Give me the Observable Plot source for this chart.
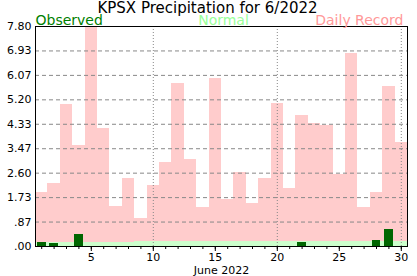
<!DOCTYPE html>
<html>
<head>
<meta charset="utf-8">
<script src="https://cdn.jsdelivr.net/npm/d3@7"></script>
<script src="https://cdn.jsdelivr.net/npm/@observablehq/plot@0.6"></script>
<style>
  html, body { margin: 0; padding: 0; background: #fff; }
</style>
</head>
<body>
<div id="chart"></div>
<script>
const title = "KPSX Precipitation for 6/2022";
const xLabel = "June 2022";
const legendLabels = ["Observed", "Normal", "Daily Record"];
const days = [1,2,3,4,5,6,7,8,9,10,11,12,13,14,15,16,17,18,19,20,21,22,23,24,25,26,27,28,29,30];
const record = [1.93,2.25,5.04,3.58,7.80,4.20,1.43,2.41,0.99,2.17,2.98,5.79,3.10,1.38,5.97,1.67,2.62,1.54,2.41,5.07,2.07,4.65,4.37,4.29,2.56,6.86,1.38,1.91,5.67,3.69];
const normal = [0.14,0.14,0.14,0.14,0.14,0.14,0.14,0.14,0.18,0.18,0.18,0.18,0.18,0.18,0.18,0.18,0.18,0.18,0.18,0.18,0.18,0.18,0.18,0.18,0.18,0.18,0.18,0.18,0.18,0.18];
const obsDays = [1, 2, 4, 22, 28, 29];
const observed = [0.15, 0.12, 0.44, 0.15, 0.22, 0.60];
const yTickLabels = [".00", ".87", "1.73", "2.60", "3.47", "4.33", "5.20", "6.07", "6.93", "7.80"];
const yMax = 7.80;
const xMajor = [5, 10, 15, 20, 25, 30];
const xGrid = [10, 20, 30];

const yTicks = yTickLabels.map((_, i) => i * yMax / (yTickLabels.length - 1));
const gridY = yTicks.slice(1, -1);
// step-area rows: each day's value starts at its left edge; a closing row ends the last day
const stepRows = days.map((d, i) => ({x: d - 0.5, record: record[i], normal: normal[i]}));
stepRows.push({x: days[days.length - 1] + 0.5, record: record[record.length - 1], normal: normal[normal.length - 1]});
const obsRows = obsDays.map((d, i) => ({day: d, value: observed[i]}));

const chart = Plot.plot({
  width: 417,
  height: 276,
  marginLeft: 35,
  marginRight: 10,
  marginTop: 26,
  marginBottom: 30,
  style: {fontFamily: "DejaVu Sans", fontSize: "11px", color: "black", background: "white"},
  x: {domain: [0.5, 30.5], axis: null},
  y: {domain: [0, yMax], axis: null},
  marks: [
    Plot.areaY(stepRows, {x: "x", y: "record", curve: "step-after", fill: "#ffcccc", shapeRendering: "crispEdges"}),
    Plot.areaY(stepRows, {x: "x", y: "normal", curve: "step-after", fill: "#ccffcc", shapeRendering: "crispEdges"}),
    Plot.ruleY(gridY, {stroke: "#888", strokeDasharray: "4,3", strokeWidth: 1}),
    Plot.ruleX(xGrid, {stroke: "#888", strokeDasharray: "1,2", strokeWidth: 1}),
    Plot.rectY(obsRows, {x1: d => d.day - 0.35, x2: d => d.day + 0.35, y1: 0, y2: "value", fill: "#006600", inset: 0, shapeRendering: "crispEdges"}),
    Plot.frame({stroke: "black", strokeWidth: 1}),
    Plot.axisY({ticks: yTicks, tickFormat: (d, i) => yTickLabels[i], tickSize: 0, tickPadding: 4, label: null, fontSize: 11}),
    Plot.axisX({ticks: days, tickSize: 3, tickFormat: () => "", label: null}),
    Plot.axisX({ticks: xMajor, tickSize: 5, tickPadding: 2, tickFormat: d => String(d), label: null, fontSize: 11}),
    Plot.text([xLabel], {frameAnchor: "bottom", lineAnchor: "bottom", dy: 27, fontSize: 11, fill: "black"}),
    Plot.text([title], {frameAnchor: "top", lineAnchor: "bottom", dx: -14, dy: -14, fontSize: 15, fill: "black"}),
    Plot.text([legendLabels[0]], {frameAnchor: "top-left", lineAnchor: "bottom", dx: 0, dy: -2, fontSize: 14, fill: "#008000"}),
    Plot.text([legendLabels[1]], {frameAnchor: "top", lineAnchor: "bottom", dx: 2, dy: -2, fontSize: 14, fill: "#99ff99"}),
    Plot.text([legendLabels[2]], {frameAnchor: "top-right", lineAnchor: "bottom", dx: -4, dy: -2, fontSize: 14, fill: "#ff9999"})
  ]
});
document.getElementById("chart").appendChild(chart);
</script>
</body>
</html>
